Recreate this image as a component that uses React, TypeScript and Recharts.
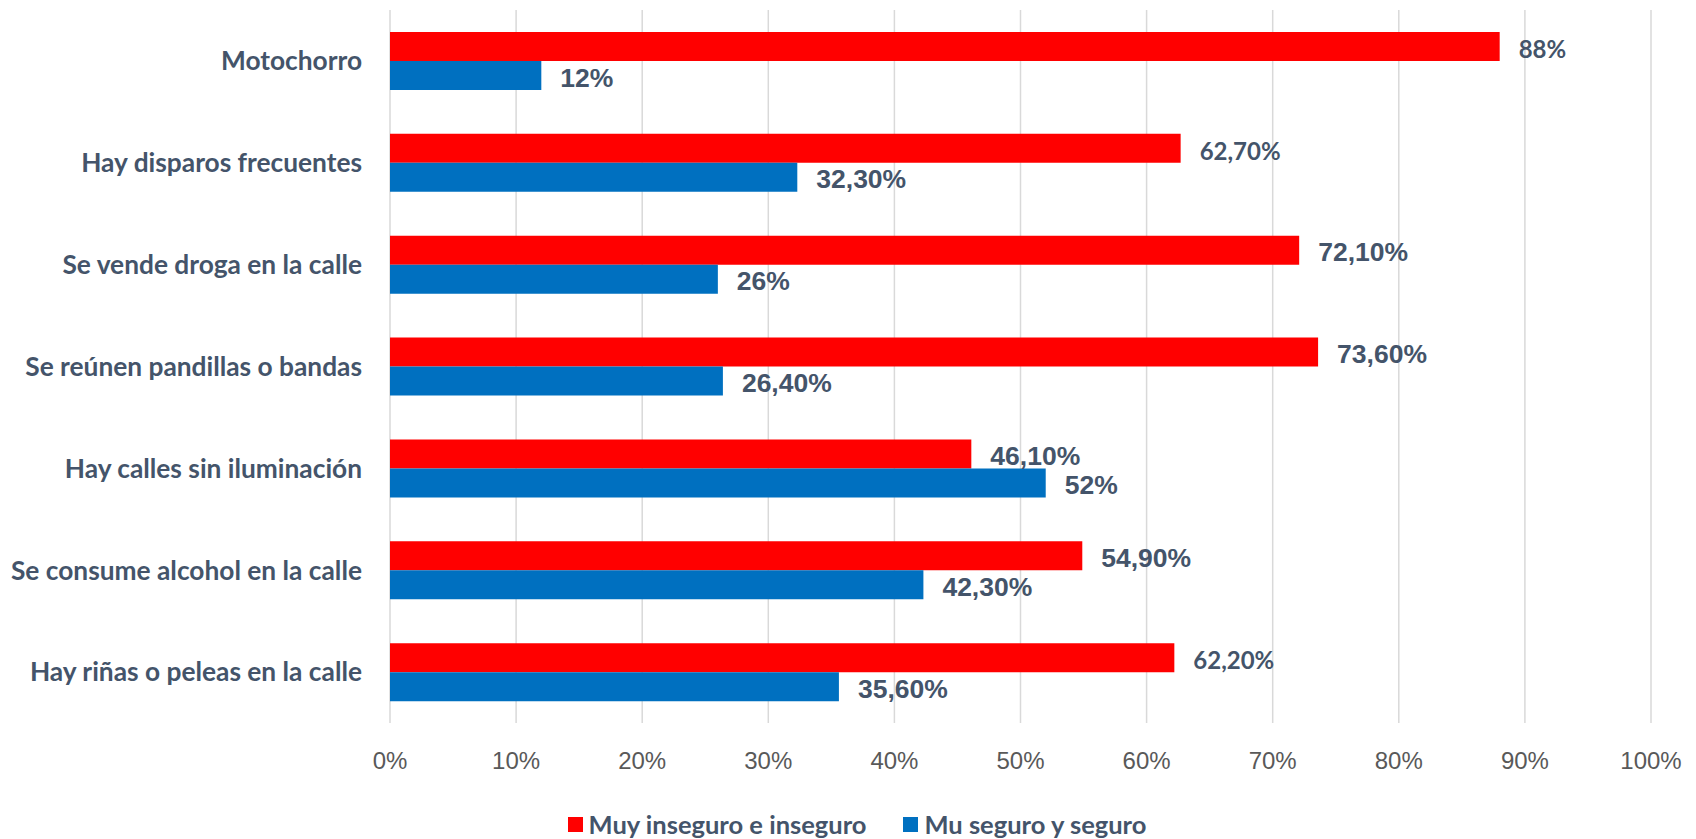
import { BarChart, Bar, XAxis, YAxis, CartesianGrid, Legend, LabelList } from 'recharts';

const categories = [
  'Motochorro',
  'Hay disparos frecuentes',
  'Se vende droga en la calle',
  'Se reúnen pandillas o bandas',
  'Hay calles sin iluminación',
  'Se consume alcohol en la calle',
  'Hay riñas o peleas en la calle',
];
const inseguro = [0.88, 0.627, 0.721, 0.736, 0.461, 0.549, 0.622];
const seguro = [0.12, 0.323, 0.26, 0.264, 0.52, 0.423, 0.356];
const inseguroLabels = ['88%', '62,70%', '72,10%', '73,60%', '46,10%', '54,90%', '62,20%'];
const seguroLabels = ['12%', '32,30%', '26%', '26,40%', '52%', '42,30%', '35,60%'];
const xTicks = [0, 0.1, 0.2, 0.3, 0.4, 0.5, 0.6, 0.7, 0.8, 0.9, 1];

const seriesNames = ['Muy inseguro e inseguro', 'Mu seguro y seguro'];
const RED = '#FF0000';
const BLUE = '#0070C0';
const TEXT = '#44546A';

// a few of the labels in the original were set in a different (narrower) font
const narrowRed = [0, 1, 6];

const data = categories.map((name, i) => ({ name, inseguro: inseguro[i], seguro: seguro[i] }));

const makeLabel = (labels: string[], narrow: number[]) => (props: any) => {
  const { x, y, width, height, index } = props;
  const isNarrow = narrow.includes(index);
  return (
    <text
      x={Number(x) + Number(width) + 19}
      y={Number(y) + Number(height) / 2 + 2}
      dominantBaseline="central"
      fill={TEXT}
      fontWeight={700}
      fontFamily={isNarrow ? 'Lato' : 'Liberation Sans'}
      fontSize={isNarrow ? 24 : 26.5}
    >
      {labels[index]}
    </text>
  );
};

const renderLegend = () => (
  <div style={{ display: 'flex', justifyContent: 'center', alignItems: 'center', height: 30, gap: 37, paddingLeft: 63 }}>
    {[RED, BLUE].map((c, i) => (
      <div key={i} style={{ display: 'flex', alignItems: 'center', gap: 6 }}>
        <span style={{ width: 15, height: 15, background: c, display: 'inline-block' }} />
        <span style={{ fontFamily: 'Lato', fontWeight: 700, fontSize: 25.5, color: TEXT }}>{seriesNames[i]}</span>
      </div>
    ))}
  </div>
);

export default function App() {
  return (
    <div style={{ position: 'absolute', left: 0, top: 0, width: 1696, height: 839, background: '#fff' }}>
      <BarChart
        width={1696}
        height={839}
        data={data}
        layout="vertical"
        margin={{ top: 10, right: 45, left: 0, bottom: 0 }}
        barGap={0}
        barSize={29}
      >
        <CartesianGrid horizontal={false} stroke="#D9D9D9" strokeWidth={1.5} />
        <XAxis
          type="number"
          domain={[0, 1]}
          ticks={xTicks}
          interval={0}
          tickFormatter={(v: number) => `${Math.round(v * 100)}%`}
          axisLine={false}
          tickLine={false}
          tickSize={0}
          tickMargin={29}
          height={86}
          tick={{ fontFamily: 'Liberation Sans', fontSize: 24, fill: '#595959' }}
        />
        <YAxis
          type="category"
          dataKey="name"
          width={390}
          interval={0}
          axisLine={false}
          tickLine={false}
          tickSize={0}
          tickMargin={28}
          tick={{ fontFamily: 'Lato', fontWeight: 700, fontSize: 26.3, fill: TEXT }}
        />
        <Legend verticalAlign="bottom" content={renderLegend} wrapperStyle={{ height: 30 }} />
        <Bar dataKey="inseguro" fill={RED} isAnimationActive={false}>
          <LabelList dataKey="inseguro" content={makeLabel(inseguroLabels, narrowRed)} />
        </Bar>
        <Bar dataKey="seguro" fill={BLUE} isAnimationActive={false}>
          <LabelList dataKey="seguro" content={makeLabel(seguroLabels, [])} />
        </Bar>
      </BarChart>
    </div>
  );
}
